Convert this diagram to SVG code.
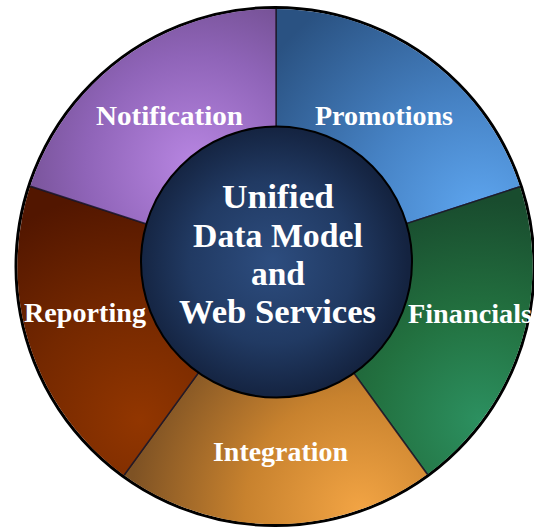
<svg xmlns="http://www.w3.org/2000/svg" width="534" height="529" viewBox="0 0 534 529">
  <style>
    .lbl { font-family: "Liberation Serif", "Times New Roman", serif; font-weight: bold; fill: #ffffff; text-anchor: middle; font-size: 28px; }
    .ctr { font-family: "Liberation Serif", "Times New Roman", serif; font-weight: bold; fill: #ffffff; text-anchor: middle; font-size: 34px; }
    .wedge { stroke: #1c1628; stroke-width: 1.5; stroke-opacity: 0.85; clip-path: url(#ring); }
  </style>
  <defs>
    <clipPath id="ring">
      <circle cx="275" cy="266.5" r="257.6"/>
    </clipPath>
    <radialGradient id="gPromo" gradientUnits="userSpaceOnUse" cx="480" cy="215" r="260">
      <stop offset="0" stop-color="#5ea6f0"/>
      <stop offset="0.45" stop-color="#4682c4"/>
      <stop offset="1" stop-color="#2a5282"/>
    </radialGradient>
    <radialGradient id="gFin" gradientUnits="userSpaceOnUse" cx="480" cy="420" r="220">
      <stop offset="0" stop-color="#2c9060"/>
      <stop offset="0.5" stop-color="#22703f"/>
      <stop offset="1" stop-color="#194c2e"/>
    </radialGradient>
    <radialGradient id="gInt" gradientUnits="userSpaceOnUse" cx="360" cy="510" r="230">
      <stop offset="0" stop-color="#f2a444"/>
      <stop offset="0.5" stop-color="#c8822e"/>
      <stop offset="1" stop-color="#7e5224"/>
    </radialGradient>
    <radialGradient id="gRep" gradientUnits="userSpaceOnUse" cx="140" cy="420" r="230">
      <stop offset="0" stop-color="#923600"/>
      <stop offset="0.5" stop-color="#742800"/>
      <stop offset="1" stop-color="#521600"/>
    </radialGradient>
    <radialGradient id="gNot" gradientUnits="userSpaceOnUse" cx="195" cy="165" r="220">
      <stop offset="0" stop-color="#b886e2"/>
      <stop offset="0.5" stop-color="#8f64b8"/>
      <stop offset="1" stop-color="#664680"/>
    </radialGradient>
    <radialGradient id="gCtr" gradientUnits="userSpaceOnUse" cx="272" cy="262" r="136">
      <stop offset="0" stop-color="#2d4d7f"/>
      <stop offset="0.6" stop-color="#213a63"/>
      <stop offset="1" stop-color="#142340"/>
    </radialGradient>
  </defs>

  <g id="outer-ring">
    <circle cx="275" cy="266.5" r="259" fill="none" stroke="#000000" stroke-width="3"/>
  </g>

  <g id="promotions">
    <path class="wedge" fill="url(#gPromo)" d="M276,266 L276,-34 A300,300 0 0,1 561.3,173.3 Z"/>
    <text class="lbl" x="384" y="125" textLength="138" lengthAdjust="spacingAndGlyphs">Promotions</text>
  </g>
  <g id="financials">
    <path class="wedge" fill="url(#gFin)" d="M276,266 L561.3,173.3 A300,300 0 0,1 452.3,508.7 Z"/>
    <text class="lbl" x="470" y="323" textLength="124" lengthAdjust="spacingAndGlyphs">Financials</text>
  </g>
  <g id="integration">
    <path class="wedge" fill="url(#gInt)" d="M276,266 L452.3,508.7 A300,300 0 0,1 99.7,508.7 Z"/>
    <text class="lbl" x="280.5" y="461" textLength="135" lengthAdjust="spacingAndGlyphs">Integration</text>
  </g>
  <g id="reporting">
    <path class="wedge" fill="url(#gRep)" d="M276,266 L99.7,508.7 A300,300 0 0,1 -9.3,173.3 Z"/>
    <text class="lbl" x="85" y="322" textLength="122" lengthAdjust="spacingAndGlyphs">Reporting</text>
  </g>
  <g id="notification">
    <path class="wedge" fill="url(#gNot)" d="M276,266 L-9.3,173.3 A300,300 0 0,1 276,-34 Z"/>
    <text class="lbl" x="169.5" y="125" textLength="147" lengthAdjust="spacingAndGlyphs">Notification</text>
  </g>

  <g id="connectors"></g>

  <g id="center">
    <circle cx="276.5" cy="262" r="135.5" fill="url(#gCtr)" stroke="#000000" stroke-width="2"/>
    <text class="ctr" x="278" y="208" textLength="112" lengthAdjust="spacingAndGlyphs">Unified</text>
    <text class="ctr" x="278" y="247" textLength="170" lengthAdjust="spacingAndGlyphs">Data Model</text>
    <text class="ctr" x="278" y="285" textLength="54" lengthAdjust="spacingAndGlyphs">and</text>
    <text class="ctr" x="277.5" y="323" textLength="197" lengthAdjust="spacingAndGlyphs">Web Services</text>
  </g>
</svg>
